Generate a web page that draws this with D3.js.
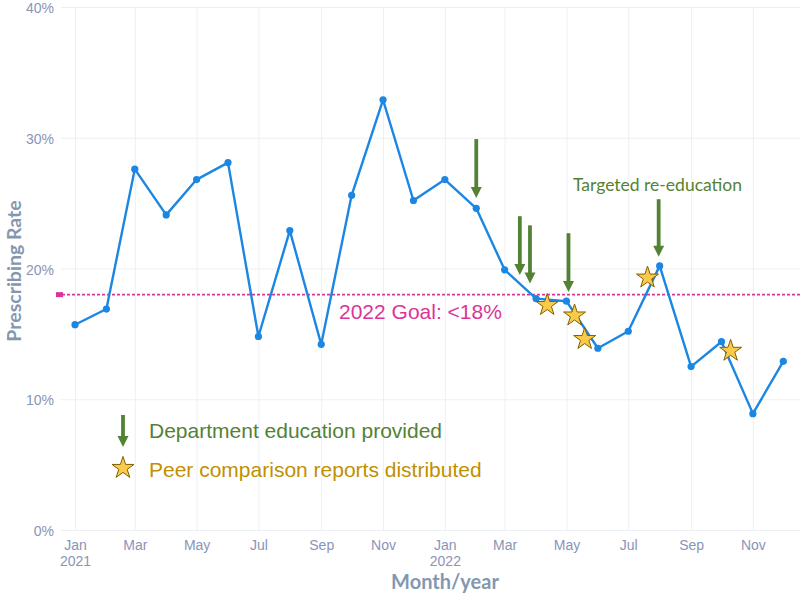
<!DOCTYPE html>
<html>
<head>
<meta charset="utf-8">
<script src="https://cdn.jsdelivr.net/npm/d3@7"></script>
<style>
    body { margin: 0; background: #fff; }
    svg { display: block; }
</style>
</head>
<body>
<div id="chart"></div>
<script>
//monthly prescribing rate (%)
const months = ["2021-01-01", "2021-02-01", "2021-03-01", "2021-04-01", "2021-05-01", "2021-06-01",
    "2021-07-01", "2021-08-01", "2021-09-01", "2021-10-01", "2021-11-01", "2021-12-01",
    "2022-01-01", "2022-02-01", "2022-03-01", "2022-04-01", "2022-05-01", "2022-06-01",
    "2022-07-01", "2022-08-01", "2022-09-01", "2022-10-01", "2022-11-01", "2022-12-01"];
const rates = [15.7, 16.9, 27.6, 24.1, 26.8, 28.1, 14.8, 22.9, 14.2, 25.6, 32.9, 25.2,
    26.8, 24.6, 19.9, 17.7, 17.5, 13.9, 15.2, 20.2, 12.5, 14.4, 8.9, 12.9];

//goal
const goalRate = 18;
const goalLabel = "2022 Goal: <18%";

//department education arrows (date, top value, tip value)
const educationDates = ["2022-02-01", "2022-03-16", "2022-03-26", "2022-05-03", "2022-07-31"];
const educationTop = [29.9, 24.0, 23.3, 22.7, 25.3];
const educationTip = [25.4, 19.5, 18.85, 18.2, 20.9];

//peer comparison report stars
const peerDates = ["2022-04-12", "2022-05-09", "2022-05-19", "2022-07-20", "2022-10-10"];
const peerValues = [17.2, 16.4, 14.6, 19.3, 13.7];

//ticks
const yTicks = [0, 10, 20, 30, 40];
const xTicks = ["2021-01-01", "2021-03-01", "2021-05-01", "2021-07-01", "2021-09-01", "2021-11-01",
    "2022-01-01", "2022-03-01", "2022-05-01", "2022-07-01", "2022-09-01", "2022-11-01"];

const parse = d3.utcParse("%Y-%m-%d");
const width = 800, height = 594;
const plot = { left: 61, right: 830, top: 7, bottom: 530 };

const svg = d3.select("#chart").append("svg")
    .attr("width", width)
    .attr("height", height)
    .style("font-family", "'Liberation Sans', Arial, sans-serif");

svg.append("rect").attr("width", width).attr("height", height).attr("fill", "#fff");

//scales
let x = d3.scaleUtc()
    .domain([parse("2021-01-01"), parse("2022-12-01")])
    .range([75, 783.3]);
let y = d3.scaleLinear()
    .domain([0, 40])
    .range([plot.bottom, plot.top]);

const tickColor = "#8a94b8", titleColor = "#8497b0", gridColor = "#eceff4";

//y axis + horizontal grid
let yAxis = svg.append("g")
    .attr("transform", "translate(" + plot.left + ",0)")
    .call(d3.axisLeft(y)
        .tickValues(yTicks)
        .tickFormat(d => d + "%")
        .tickSize(-(plot.right - plot.left))
        .tickPadding(7));
yAxis.select(".domain").remove();
yAxis.selectAll("line").attr("stroke", gridColor).attr("stroke-width", 1);
yAxis.selectAll("text")
    .attr("fill", tickColor)
    .attr("dy", "0.4em")
    .style("font-size", "14px")
    .style("font-family", "'Liberation Sans', Arial, sans-serif");

//x axis + vertical grid
let xAxis = svg.append("g")
    .attr("transform", "translate(0," + plot.bottom + ")")
    .call(d3.axisBottom(x)
        .tickValues(xTicks.map(parse))
        .tickFormat("")
        .tickSize(-(plot.bottom - plot.top))
        .tickPadding(10));
xAxis.select(".domain").remove();
xAxis.selectAll("line").attr("stroke", gridColor).attr("stroke-width", 1);
xAxis.selectAll(".tick text")
    .attr("fill", tickColor)
    .style("font-size", "14px")
    .style("font-family", "'Liberation Sans', Arial, sans-serif")
    .each(function (d) {
        let t = d3.select(this);
        t.append("tspan").attr("x", 0).text(d3.utcFormat("%b")(d));
        if (d.getUTCMonth() === 0) {
            t.append("tspan").attr("x", 0).attr("dy", "1.15em").text(d.getUTCFullYear());
        }
    });

//axis titles
svg.append("text")
    .attr("x", 445)
    .attr("y", 589)
    .attr("text-anchor", "middle")
    .attr("fill", titleColor)
    .style("font-family", "Lato, sans-serif")
    .style("font-weight", "bold")
    .style("font-size", "20px")
    .text("Month/year");

svg.append("text")
    .attr("transform", "translate(20.5," + 271 + ") rotate(-90)")
    .attr("text-anchor", "middle")
    .attr("fill", titleColor)
    .style("font-family", "Lato, sans-serif")
    .style("font-weight", "bold")
    .style("font-size", "19.5px")
    .text("Prescribing Rate");

//goal line
const goalColor = "#dd3399";
svg.append("line")
    .attr("x1", 57)
    .attr("x2", plot.right)
    .attr("y1", y(goalRate))
    .attr("y2", y(goalRate))
    .attr("stroke", goalColor)
    .attr("stroke-width", 1.8)
    .attr("stroke-dasharray", "3,2");
svg.append("rect")
    .attr("x", 56)
    .attr("y", y(goalRate) - 2.5)
    .attr("width", 7)
    .attr("height", 5)
    .attr("fill", goalColor);
svg.append("text")
    .attr("x", 339)
    .attr("y", 319)
    .attr("fill", goalColor)
    .style("font-size", "21px")
    .text(goalLabel);

//rate line
const lineColor = "#1c86e3";
let series = months.map((m, i) => ({ date: parse(m), value: rates[i] }));
svg.append("path")
    .datum(series)
    .attr("fill", "none")
    .attr("stroke", lineColor)
    .attr("stroke-width", 2.4)
    .attr("stroke-linejoin", "round")
    .attr("d", d3.line().x(d => x(d.date)).y(d => y(d.value)));
svg.selectAll(".rate_dot")
    .data(series)
    .enter()
    .append("circle")
    .attr("class", "rate_dot")
    .attr("cx", d => x(d.date))
    .attr("cy", d => y(d.value))
    .attr("r", 3.6)
    .attr("fill", lineColor);

//arrow drawing helper
const green = "#548235";
function drawArrow(g, cx, top, tip) {
    let headLen = 11, headHalf = 5.5;
    g.append("line")
        .attr("x1", cx).attr("x2", cx)
        .attr("y1", top).attr("y2", tip - headLen + 1)
        .attr("stroke", green)
        .attr("stroke-width", 3.8);
    g.append("path")
        .attr("d", "M" + (cx - headHalf) + "," + (tip - headLen) +
            "L" + (cx + headHalf) + "," + (tip - headLen) +
            "L" + cx + "," + tip + "Z")
        .attr("fill", green);
}

let arrows = svg.append("g");
educationDates.forEach((d, i) => {
    drawArrow(arrows, x(parse(d)), y(educationTop[i]), y(educationTip[i]));
});

svg.append("text")
    .attr("x", 573)
    .attr("y", 191)
    .attr("fill", green)
    .style("font-family", "Lato, sans-serif")
    .style("font-size", "17.5px")
    .text("Targeted re-education");

//stars
const starFill = "#fcca4a", starStroke = "#7f6000";
let star = d3.symbol().type(d3.symbolStar).size(150);
svg.selectAll(".peer_star")
    .data(peerDates)
    .enter()
    .append("path")
    .attr("class", "peer_star")
    .attr("transform", (d, i) => "translate(" + x(parse(d)) + "," + y(peerValues[i]) + ")")
    .attr("d", star)
    .attr("fill", starFill)
    .attr("stroke", starStroke)
    .attr("stroke-width", 1);

//legend
let legend = svg.append("g");
drawArrow(legend, 123, 415, 447);
legend.append("path")
    .attr("transform", "translate(123,468)")
    .attr("d", star)
    .attr("fill", starFill)
    .attr("stroke", starStroke)
    .attr("stroke-width", 1);
legend.append("text")
    .attr("x", 149)
    .attr("y", 438)
    .attr("fill", green)
    .style("font-size", "21px")
    .text("Department education provided");
legend.append("text")
    .attr("x", 149)
    .attr("y", 477)
    .attr("fill", "#bf9000")
    .style("font-size", "21px")
    .text("Peer comparison reports distributed");
</script>
</body>
</html>
